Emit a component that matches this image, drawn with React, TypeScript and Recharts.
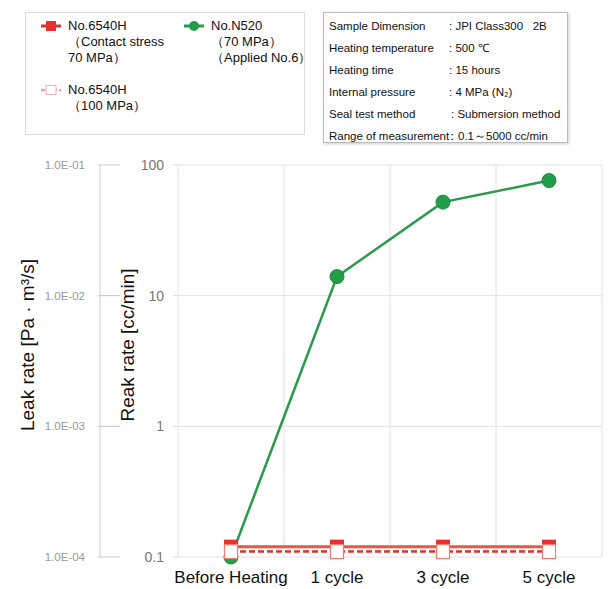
import { LineChart, Line, XAxis, YAxis, CartesianGrid } from 'recharts';

const categories = ['Before Heating', '1 cycle', '3 cycle', '5 cycle'];
const n520 = [0.1, 14, 52, 76];
const h6540At70 = [0.12, 0.12, 0.12, 0.12];
const h6540At100 = [0.11, 0.11, 0.11, 0.11];

const ccTicks = [0.1, 1, 10, 100];
const paTicks = [0.0001, 0.001, 0.01, 0.1];
const paTickLabels = ['1.0E-04', '1.0E-03', '1.0E-02', '1.0E-01'];

const conditions = [
    ['Sample Dimension', ': JPI Class300\u00a0\u00a0 2B'],
    ['Heating temperature', ': 500 \u2103'],
    ['Heating time', ': 15 hours'],
    ['Internal pressure', ': 4 MPa (N\u2082)'],
    ['Seal test method', ': Submersion method'],
    ['Range of measurement', '\uff1a0.1\uff5e5000 cc/min'],
];

const data = categories.map((name, i) => ({
    name,
    n520: n520[i],
    h70: h6540At70[i],
    h100: h6540At100[i],
}));

const FONT = '"Liberation Sans", Arial, sans-serif';
const RED = '#e8302e';
const GREEN = '#229e48';

function PaTick(props: any) {
    const x = Number(props.x);
    const y = Number(props.y);
    const { payload } = props;
    const idx = paTicks.findIndex((t) => Math.abs(t - payload.value) < t * 1e-6);
    return (
        <g>
            <line x1={x + 13} x2={x + 35} y1={y} y2={y} stroke="#c8c8c8" />
            <text x={x} y={y} dy="0.35em" textAnchor="end" fill="#999" fontSize={11.5} fontFamily={FONT}>
                {idx >= 0 ? paTickLabels[idx] : payload.value}
            </text>
        </g>
    );
}

function AxisTitle({ viewBox, text, dx }: any) {
    const cx = viewBox.x + dx;
    const cy = viewBox.y + viewBox.height / 2 - 16;
    return (
        <text x={cx} y={cy} transform={`rotate(-90 ${cx} ${cy})`} textAnchor="middle" dominantBaseline="central"
            fontSize={19} fontFamily={FONT} fill="#111">
            {text}
        </text>
    );
}

function GreenDot(props: any) {
    const { cx, cy } = props;
    if (cx == null || cy == null) return null;
    return <circle cx={cx} cy={cy} r={7} fill={GREEN} stroke="#178a3a" strokeWidth={1} />;
}

function RedDot(props: any) {
    const { cx, cy } = props;
    if (cx == null || cy == null) return null;
    return <rect x={cx - 7} y={cy - 7} width={14} height={13} fill={RED} />;
}

function WhiteDot(props: any) {
    const { cx, cy } = props;
    if (cx == null || cy == null) return null;
    return <rect x={cx - 6.5} y={cy - 7} width={13} height={14} fill="#fff" stroke="#f07a6e" strokeWidth={1.2} />;
}

function LegendIcon({ kind }: { kind: string }) {
    return (
        <svg width={20} height={10} style={{ position: 'absolute', left: 0, top: 3 }}>
            {kind === 'red' && (
                <>
                    <line x1={0} x2={20} y1={5} y2={5} stroke={RED} strokeWidth={3} />
                    <rect x={5} y={0} width={10} height={10} fill={RED} />
                </>
            )}
            {kind === 'green' && (
                <>
                    <line x1={0} x2={20} y1={5} y2={5} stroke={GREEN} strokeWidth={3} />
                    <circle cx={10} cy={5} r={5} fill={GREEN} />
                </>
            )}
            {kind === 'pale' && (
                <>
                    <line x1={0} x2={20} y1={5} y2={5} stroke="#f0a0a0" strokeWidth={2.5} strokeDasharray="4 2" />
                    <rect x={5} y={0.5} width={10} height={9} fill="#fff" stroke="#f3b0b0" />
                </>
            )}
        </svg>
    );
}

function LegendItem({ kind, lines, left, top }: any) {
    return (
        <div style={{ position: 'absolute', left, top, paddingLeft: 27, whiteSpace: 'nowrap' }}>
            <LegendIcon kind={kind} />
            {lines.map((t: string, i: number) => (
                <div key={i} style={{ lineHeight: '16px' }}>{t}</div>
            ))}
        </div>
    );
}

export default function App() {
    return (
        <div style={{ position: 'relative', width: 604, height: 581, fontFamily: FONT }}>
            <LineChart width={604} height={581} data={data} margin={{ top: 157, right: 10, bottom: 0, left: 0 }}>
                <CartesianGrid
                    yAxisId="cc"
                    stroke="#e2e2e2"
                    horizontal={true}
                    vertical={true}
                    verticalCoordinatesGenerator={({ offset }: any) =>
                        categories.concat(['']).map((_, i) => offset.left + (i * offset.width) / categories.length)
                    }
                />
                <XAxis
                    dataKey="name"
                    padding={{ left: 53, right: 53 }}
                    axisLine={false}
                    tickLine={false}
                    tickSize={0}
                    tickMargin={14}
                    height={32}
                    interval={0}
                    tick={{ fill: '#111', fontSize: 17, fontFamily: FONT }}
                />
                <YAxis
                    yAxisId="cc"
                    scale="log"
                    domain={[0.1, 100]}
                    ticks={ccTicks}
                    width={78}
                    axisLine={false}
                    tickSize={5}
                    tickMargin={9}
                    tickLine={{ stroke: '#d8d8d8' }}
                    tick={{ fill: '#777', fontSize: 14, fontFamily: FONT }}
                    tickFormatter={(v: number) => String(v)}
                    label={(p: any) => <AxisTitle {...p} text="Reak rate [cc/min]" dx={27} />}
                />
                <YAxis
                    yAxisId="pa"
                    scale="log"
                    domain={[0.0001, 0.1]}
                    allowDataOverflow
                    ticks={paTicks}
                    width={92}
                    axisLine={{ stroke: '#d0d0d0' }}
                    tickLine={false}
                    tickSize={0}
                    tickMargin={15}
                    tick={<PaTick />}
                    label={(p: any) => <AxisTitle {...p} text={'Leak rate [Pa \u00b7 m\u00b3/s]'} dx={19} />}
                />
                {/* invisible series so the Pa axis gets a scale (same values, 1 cc/min ~ 1e-3 Pa m3/s on this chart) */}
                <Line
                    yAxisId="pa"
                    dataKey={(d: any) => d.n520 / 1000}
                    stroke="none"
                    dot={false}
                    activeDot={false}
                    legendType="none"
                    isAnimationActive={false}
                />
                <Line
                    yAxisId="cc"
                    dataKey="n520"
                    stroke="#2b9a4c"
                    strokeWidth={2.5}
                    dot={<GreenDot />}
                    isAnimationActive={false}
                />
                <Line
                    yAxisId="cc"
                    dataKey="h70"
                    stroke="#ee5440"
                    strokeWidth={3}
                    dot={<RedDot />}
                    isAnimationActive={false}
                />
                <Line
                    yAxisId="cc"
                    dataKey="h100"
                    stroke="#d9342c"
                    strokeWidth={2.5}
                    strokeDasharray="6 3"
                    dot={<WhiteDot />}
                    isAnimationActive={false}
                />
            </LineChart>

            <div style={{
                position: 'absolute', left: 17, top: 4, width: 278, height: 121,
                border: '1px solid #dcdcdc', background: '#fff', fontSize: 13, color: '#111',
            }}>
                <LegendItem kind="red" left={15} top={5} lines={['No.6540H', '\uff08Contact stress', '70 MPa\uff09']} />
                <LegendItem kind="green" left={158} top={5} lines={['No.N520', '\uff0870 MPa\uff09', '\uff08Applied No.6\uff09']} />
                <LegendItem kind="pale" left={15} top={69} lines={['No.6540H', '\uff08100 MPa\uff09']} />
            </div>

            <div style={{
                position: 'absolute', left: 315, top: 4, width: 243, height: 129,
                border: '1px solid #bbb', boxShadow: '1px 1px 3px #ccc', background: '#fff',
                fontSize: 11.5, color: '#111',
            }}>
                {conditions.map(([k, v], i) => (
                    <div key={i} style={{ position: 'absolute', left: 5, top: 5 + i * 22, whiteSpace: 'nowrap', lineHeight: '16px' }}>
                        <span>{k}</span>
                        <span style={{ position: 'absolute', left: i === 5 ? 117 : 120 + (i === 4 ? 2 : 0) }}>{v}</span>
                    </div>
                ))}
            </div>
        </div>
    );
}
